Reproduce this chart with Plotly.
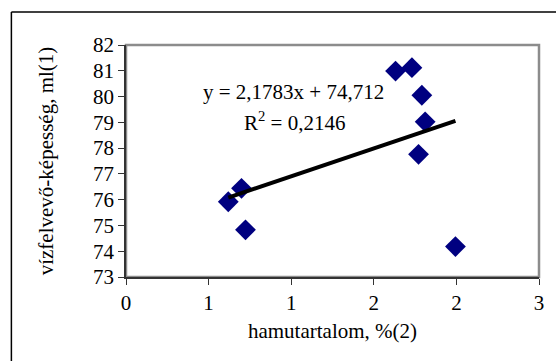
import numpy as np
import plotly.graph_objects as go

# Data
ash = [0.743, 0.839, 0.868, 1.958, 2.077, 2.149, 2.173, 2.125, 2.393]
water = [75.92, 76.44, 74.83, 80.99, 81.12, 80.05, 79.02, 77.76, 74.18]

x_tickvals = [0, 0.6, 1.2, 1.8, 2.4, 3.0]
x_ticktext = ["0", "1", "1", "2", "2", "3"]
y_tickvals = [73, 74, 75, 76, 77, 78, 79, 80, 81, 82]

eq_text = "y = 2,1783x + 74,712"
r2_text = "R<sup>2</sup> = 0,2146"
x_title = "hamutartalom, %(2)"
y_title = "vízfelvevő-képesség, ml(1)"

# Linear trendline fitted on the data
slope, intercept = np.polyfit(ash, water, 1)
tx = [min(ash), max(ash)]
ty = [slope * v + intercept for v in tx]

FONT = "Liberation Serif, Times New Roman, serif"
FS = 21

fig = go.Figure()
fig.add_trace(go.Scatter(
    x=ash, y=water, mode="markers",
    marker=dict(symbol="diamond", size=16, color="#000080",
                line=dict(width=0)),
    showlegend=False, hoverinfo="skip"))
fig.add_trace(go.Scatter(
    x=tx, y=ty, mode="lines",
    line=dict(color="black", width=4),
    showlegend=False, hoverinfo="skip"))

W, H = 556, 361
L, R, T, B = 126, 12, 44.5, 83.7
pw, ph = W - L - R, H - T - B

bx = (10 - L) / pw
by = 1 + (T - 11.5) / ph

fig.update_layout(
    width=W, height=H,
    margin=dict(l=L, r=R, t=T, b=B, pad=0),
    paper_bgcolor="white", plot_bgcolor="white",
    font=dict(family=FONT, size=FS, color="black"),
    xaxis=dict(range=[0, 3], tickvals=x_tickvals, ticktext=x_ticktext,
               showgrid=False, zeroline=False, showline=True,
               linecolor="#333333", linewidth=1.5,
               ticks="outside", ticklen=6, tickwidth=1.3, tickcolor="#333333",
               tickfont=dict(family=FONT, size=FS, color="black"),
               title=dict(text=x_title, standoff=9,
                          font=dict(family=FONT, size=FS, color="black"))),
    yaxis=dict(range=[73, 82], tickvals=y_tickvals,
               showgrid=False, zeroline=False, showline=True,
               linecolor="#333333", linewidth=1.5,
               ticks="outside", ticklen=6, tickwidth=1.3, tickcolor="#333333",
               tickfont=dict(family=FONT, size=FS, color="black"),
               title=dict(text=y_title, standoff=34,
                          font=dict(family=FONT, size=FS, color="black"))),
    shapes=[
        dict(type="rect", xref="paper", yref="paper", x0=0, x1=1, y0=0, y1=1,
             line=dict(color="#8c8c8c", width=2.5), layer="below"),
        dict(type="line", xref="paper", yref="paper",
             x0=bx, x1=bx, y0=-3, y1=by,
             line=dict(color="black", width=1.5), layer="below"),
        dict(type="line", xref="paper", yref="paper",
             x0=bx, x1=3, y0=by, y1=by,
             line=dict(color="black", width=1.5), layer="below"),
    ],
    annotations=[
        dict(text=eq_text, xref="paper", yref="paper",
             x=(296 - L) / pw, y=1 - (91.7 - T) / ph,
             showarrow=False, xanchor="center", yanchor="middle",
             font=dict(family=FONT, size=FS, color="black")),
        dict(text=r2_text, xref="paper", yref="paper",
             x=(296.5 - L) / pw, y=1 - (121.7 - T) / ph,
             showarrow=False, xanchor="center", yanchor="middle",
             font=dict(family=FONT, size=FS, color="black")),
    ],
)

fig.write_html("out.html")
